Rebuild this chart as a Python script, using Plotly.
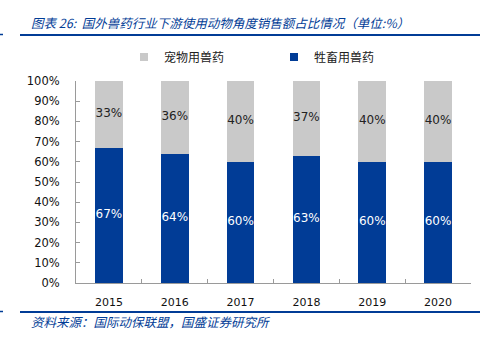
import plotly.graph_objects as go

years = ["2015", "2016", "2017", "2018", "2019", "2020"]
livestock = [67, 64, 60, 63, 60, 60]
pet = [33, 36, 40, 37, 40, 40]
y_ticks = [0, 10, 20, 30, 40, 50, 60, 70, 80, 90, 100]
y_tick_text = [f"{v}%" for v in y_ticks]

BLUE = "#013C96"
GRAY = "#C9C9C9"
CJK = "Noto Sans CJK SC"
NUM = "DejaVu Sans"

W, H = 483, 341
L, R, T, B = 76, 12, 81, 58
pw = W - L - R
ph = H - T - B


def ax(px):
    return (px - L) / pw


def ay(py):
    return ((H - py) - B) / ph


fig = go.Figure()
fig.add_trace(go.Bar(x=years, y=livestock, name="牲畜用兽药", marker_color=BLUE,
                     marker_line_width=0, showlegend=False))
fig.add_trace(go.Bar(x=years, y=pet, name="宠物用兽药", marker_color=GRAY,
                     marker_line_width=0, showlegend=False))

# data labels, placed at segment centres computed from the data
liv_mid = [v / 2 for v in livestock]
pet_mid = [a + b / 2 for a, b in zip(livestock, pet)]
fig.add_trace(go.Scatter(x=years, y=liv_mid, mode="text",
                         text=[f"{v}%" for v in livestock],
                         textfont=dict(color="white", size=12, family=NUM),
                         showlegend=False, hoverinfo="skip"))
fig.add_trace(go.Scatter(x=years, y=pet_mid, mode="text",
                         text=[f"{v}%" for v in pet],
                         textfont=dict(color="#222222", size=12, family=NUM),
                         showlegend=False, hoverinfo="skip"))

# legend entries
fig.add_trace(go.Scatter(x=[None], y=[None], mode="markers", name="宠物用兽药",
                         marker=dict(symbol="square", size=8, color=GRAY),
                         legend="legend"))
fig.add_trace(go.Scatter(x=[None], y=[None], mode="markers", name="牲畜用兽药",
                         marker=dict(symbol="square", size=8, color=BLUE),
                         legend="legend2"))

shapes = []
for yy in (35, 312):
    shapes.append(dict(type="line", xref="paper", yref="paper", x0=ax(20), x1=ax(480),
                       y0=ay(yy), y1=ay(yy), line=dict(color=BLUE, width=2)))
    shapes.append(dict(type="line", xref="paper", yref="paper", x0=ax(0), x1=ax(3),
                       y0=ay(yy - 0.5), y1=ay(yy - 0.5), line=dict(color=BLUE, width=1.5)))

annotations = [
    dict(text="图表 26:  国外兽药行业下游使用动物角度销售额占比情况（单位:%）",
         xref="paper", yref="paper", x=ax(29), y=ay(23), xanchor="left",
         yanchor="middle", showarrow=False,
         font=dict(family=CJK, size=12.5, color=BLUE, style="italic")),
    dict(text="资料来源：国际动保联盟，国盛证券研究所",
         xref="paper", yref="paper", x=ax(29), y=ay(321), xanchor="left",
         yanchor="middle", showarrow=False,
         font=dict(family=CJK, size=12.5, color=BLUE, style="italic")),
]

leg_common = dict(orientation="h", xanchor="left", yanchor="middle",
                  itemwidth=30, bgcolor="rgba(0,0,0,0)", borderwidth=0,
                  font=dict(family=CJK, size=12, color="#222222"))

fig.update_layout(
    width=W, height=H, autosize=False,
    margin=dict(l=L, r=R, t=T, b=B, pad=0),
    paper_bgcolor="white", plot_bgcolor="white",
    barmode="stack", bargap=0.58,
    shapes=shapes, annotations=annotations,
    legend=dict(x=ax(124), y=ay(57), **leg_common),
    legend2=dict(x=ax(274), y=ay(57), **leg_common),
    xaxis=dict(showline=True, linecolor="#9a9a9a", linewidth=1,
               ticks="inside", tickcolor="#9a9a9a", ticklen=4,
               tickson="boundaries", showgrid=False, ticklabelstandoff=9,
               tickfont=dict(family=NUM, size=11, color="#111111")),
    yaxis=dict(range=[0, 100], tickvals=y_ticks, ticktext=y_tick_text,
               showline=True, linecolor="#9a9a9a", linewidth=1,
               ticks="inside", tickcolor="#9a9a9a", ticklen=4,
               showgrid=False, zeroline=False, ticklabelstandoff=13,
               tickfont=dict(family=NUM, size=11.5, color="#111111")),
)

fig.write_html("out.html")
